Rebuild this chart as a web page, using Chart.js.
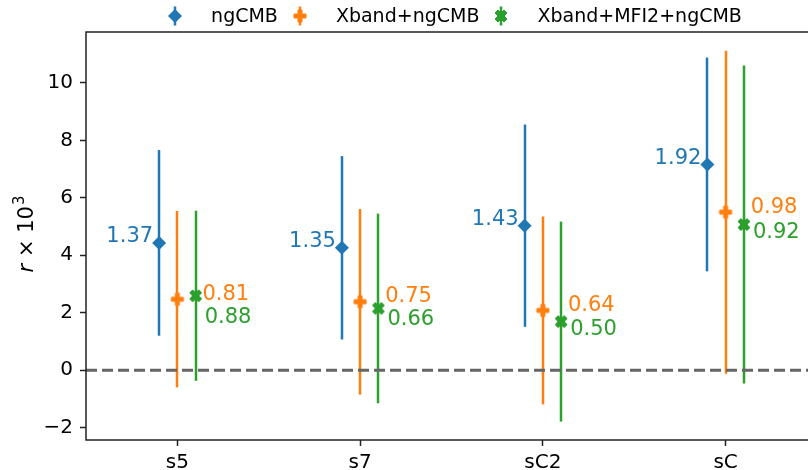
<!DOCTYPE html>
<html>
<head>
<meta charset="utf-8">
<script src="https://cdn.jsdelivr.net/npm/chart.js@4.4.0/dist/chart.umd.min.js"></script>
<style>
  html, body { margin: 0; padding: 0; background: #fff; overflow: hidden; }
  #wrap { width: 808px; height: 470px; overflow: hidden; }
  canvas { display: block; }
</style>
</head>
<body>
<div id="wrap"><canvas id="chart" width="840" height="470"></canvas></div>
<script>
const categories = ['s5', 's7', 'sC2', 'sC'];
const seriesNames = ['ngCMB', 'Xband+ngCMB', 'Xband+MFI2+ngCMB'];

// r x 10^3: central values and symmetric 1-sigma half widths
const ngcmbMean = [4.43, 4.26, 5.03, 7.16];
const ngcmbErr = [3.23, 3.19, 3.52, 3.72];
const xbandMean = [2.47, 2.38, 2.08, 5.50];
const xbandErr = [3.07, 3.23, 3.27, 5.62];
const mfi2Mean = [2.59, 2.15, 1.69, 5.07];
const mfi2Err = [2.96, 3.30, 3.48, 5.53];

// numbers printed beside each point
const ngcmbText = ['1.37', '1.35', '1.43', '1.92'];
const xbandText = ['0.81', '0.75', '0.64', '0.98'];
const mfi2Text = ['0.88', '0.66', '0.50', '0.92'];

const yTicks = [-2, 0, 2, 4, 6, 8, 10];
const yMin = -2.43;
const yMax = 11.77;

const BLUE = '#1f77b4', ORANGE = '#ff7f0e', GREEN = '#2ca02c';
const FONT = 'DejaVu Sans';

// filled plus ('P') and filled cross ('X') marker outlines, unit size
const plusPath = [[-1,-3],[1,-3],[1,-1],[3,-1],[3,1],[1,1],[1,3],[-1,3],[-1,1],[-3,1],[-3,-1],[-1,-1]]
  .map(([a, b]) => [a / 6, b / 6]);
const crossPath = [[-1,-2],[0,-1],[1,-2],[2,-1],[1,0],[2,1],[1,2],[0,1],[-1,2],[-2,1],[-1,0],[-2,-1]]
  .map(([a, b]) => [a / 4, b / 4]);

function makeMarker(path, size, color) {
  const c = document.createElement('canvas');
  c.width = c.height = size + 4;
  const g = c.getContext('2d');
  const m = c.width / 2;
  g.beginPath();
  path.forEach(([px, py], k) => {
    const X = m + px * size, Y = m - py * size;
    if (k) g.lineTo(X, Y); else g.moveTo(X, Y);
  });
  g.closePath();
  g.fillStyle = color;
  g.fill();
  g.lineWidth = 1;
  g.strokeStyle = color;
  g.stroke();
  return c;
}

const plusImg = makeMarker(plusPath, 12, ORANGE);
const crossImg = makeMarker(crossPath, 12, GREEN);

function points(means, shift) {
  return means.map((v, i) => ({ x: i + shift, y: v }));
}

function drawDiamond(ctx, x, y, r, color) {
  ctx.beginPath();
  ctx.moveTo(x, y - r);
  ctx.lineTo(x + r, y);
  ctx.lineTo(x, y + r);
  ctx.lineTo(x - r, y);
  ctx.closePath();
  ctx.fillStyle = color;
  ctx.fill();
}

const decor = {
  id: 'decor',
  beforeDatasetsDraw(chart) {
    const { ctx, chartArea: a } = chart;
    const x = chart.scales.x, y = chart.scales.y;
    ctx.save();
    // vertical error bars, no caps
    chart.data.datasets.forEach(ds => {
      ctx.strokeStyle = ds.borderColor;
      ctx.lineWidth = 2.5;
      ds.data.forEach((p, i) => {
        const px = Math.round(x.getPixelForValue(p.x));
        ctx.beginPath();
        ctx.moveTo(px, y.getPixelForValue(p.y - ds.errors[i]));
        ctx.lineTo(px, y.getPixelForValue(p.y + ds.errors[i]));
        ctx.stroke();
      });
    });
    // dashed r = 0 reference
    const y0 = y.getPixelForValue(0);
    ctx.setLineDash([11, 5]);
    ctx.strokeStyle = '#666';
    ctx.lineWidth = 3;
    ctx.beginPath();
    ctx.moveTo(a.left, y0);
    ctx.lineTo(a.right, y0);
    ctx.stroke();
    ctx.restore();
  },
  afterDraw(chart) {
    const { ctx, chartArea: a } = chart;
    const x = chart.scales.x, y = chart.scales.y;
    const [dsB, dsO, dsG] = chart.data.datasets;
    ctx.save();

    // axes frame
    ctx.strokeStyle = '#222';
    ctx.lineWidth = 1.5;
    ctx.strokeRect(a.left, a.top, a.right - a.left, a.bottom - a.top);

    // value labels
    ctx.font = '21px ' + FONT;
    ctx.textBaseline = 'middle';
    categories.forEach((c, i) => {
      const bx = x.getPixelForValue(dsB.data[i].x), by = y.getPixelForValue(dsB.data[i].y);
      ctx.fillStyle = BLUE;
      ctx.textAlign = 'right';
      ctx.fillText(ngcmbText[i], bx - 6, by - 6);

      const ox = x.getPixelForValue(dsO.data[i].x), oy = y.getPixelForValue(dsO.data[i].y);
      ctx.fillStyle = ORANGE;
      ctx.textAlign = 'left';
      ctx.fillText(xbandText[i], ox + 25, oy - 5);

      const gx = x.getPixelForValue(dsG.data[i].x), gy = y.getPixelForValue(dsG.data[i].y);
      ctx.fillStyle = GREEN;
      ctx.fillText(mfi2Text[i], gx + 9, Math.max(oy + 18, gy + 8));
    });

    // legend above the axes
    ctx.font = '19px ' + FONT;
    ctx.textAlign = 'left';
    const widths = seriesNames.map(n => ctx.measureText(n).width);
    const total = widths.reduce((s, w) => s + w + 56, 0) + 2 * 2;
    let sx = (a.left + a.right) / 2 - total / 2 - 2;
    const ly = 16;
    const colors = [BLUE, ORANGE, GREEN];
    seriesNames.forEach((n, k) => {
      const mx = sx + 19;
      ctx.strokeStyle = colors[k];
      ctx.lineWidth = 2.5;
      ctx.beginPath();
      ctx.moveTo(Math.round(mx), ly - 9.5);
      ctx.lineTo(Math.round(mx), ly + 9.5);
      ctx.stroke();
      if (k === 0) drawDiamond(ctx, Math.round(mx), ly, 7, BLUE);
      else {
        const img = k === 1 ? plusImg : crossImg;
        ctx.drawImage(img, Math.round(mx) - img.width / 2, ly - img.height / 2);
      }
      ctx.fillStyle = '#000';
      ctx.textBaseline = 'middle';
      ctx.fillText(n, sx + 55, ly + 1);
      sx += 55 + widths[k] + 3;
    });

    // y axis title: r x 10^3
    ctx.translate(33, 234);
    ctx.rotate(-Math.PI / 2);
    ctx.fillStyle = '#000';
    ctx.textBaseline = 'alphabetic';
    const partR = 'r', partMid = ' \u00d7 10', partSup = '3';
    ctx.font = 'italic 21px ' + FONT;
    const wR = ctx.measureText(partR).width;
    ctx.font = '21px ' + FONT;
    const wMid = ctx.measureText(partMid).width;
    ctx.font = '15px ' + FONT;
    const wSup = ctx.measureText(partSup).width;
    let tx = -(wR + wMid + wSup + 1) / 2;
    ctx.font = 'italic 21px ' + FONT;
    ctx.fillText(partR, tx, 0);
    tx += wR;
    ctx.font = '21px ' + FONT;
    ctx.fillText(partMid, tx, 0);
    tx += wMid + 1;
    ctx.font = '15px ' + FONT;
    ctx.fillText(partSup, tx, -9);
    ctx.restore();
  }
};

new Chart(document.getElementById('chart'), {
  type: 'scatter',
  data: {
    datasets: [
      {
        label: seriesNames[0],
        data: points(ngcmbMean, -0.1),
        errors: ngcmbErr,
        borderColor: BLUE,
        backgroundColor: BLUE,
        pointStyle: 'rectRot',
        pointRadius: 7,
        pointBorderWidth: 0,
        pointHoverRadius: 7
      },
      {
        label: seriesNames[1],
        data: points(xbandMean, 0),
        errors: xbandErr,
        borderColor: ORANGE,
        backgroundColor: ORANGE,
        pointStyle: plusImg
      },
      {
        label: seriesNames[2],
        data: points(mfi2Mean, 0.1),
        errors: mfi2Err,
        borderColor: GREEN,
        backgroundColor: GREEN,
        pointStyle: crossImg
      }
    ]
  },
  options: {
    responsive: false,
    animation: false,
    devicePixelRatio: 1,
    layout: { padding: { top: 32, right: 23, left: 0, bottom: 0 } },
    plugins: {
      legend: { display: false },
      tooltip: { enabled: false }
    },
    scales: {
      x: {
        type: 'linear',
        min: -0.5,
        max: 3.5,
        afterBuildTicks: s => { s.ticks = categories.map((c, i) => ({ value: i })); },
        afterFit: s => { s.height = 30; },
        border: { display: false },
        grid: { drawOnChartArea: false, tickLength: 6, tickColor: '#222', tickWidth: 1.5 },
        ticks: {
          callback: v => categories[v],
          font: { family: FONT, size: 20 },
          color: '#000',
          padding: 5,
          maxRotation: 0
        }
      },
      y: {
        min: yMin,
        max: yMax,
        afterBuildTicks: s => { s.ticks = yTicks.map(v => ({ value: v })); },
        afterFit: s => { s.width = 86; },
        border: { display: false },
        grid: { drawOnChartArea: false, tickLength: 6, tickColor: '#222', tickWidth: 1.5 },
        ticks: {
          callback: v => (v < 0 ? '\u2212' + Math.abs(v) : String(v)),
          font: { family: FONT, size: 20 },
          color: '#000',
          padding: 7
        }
      }
    }
  },
  plugins: [decor]
});
</script>
</body>
</html>
